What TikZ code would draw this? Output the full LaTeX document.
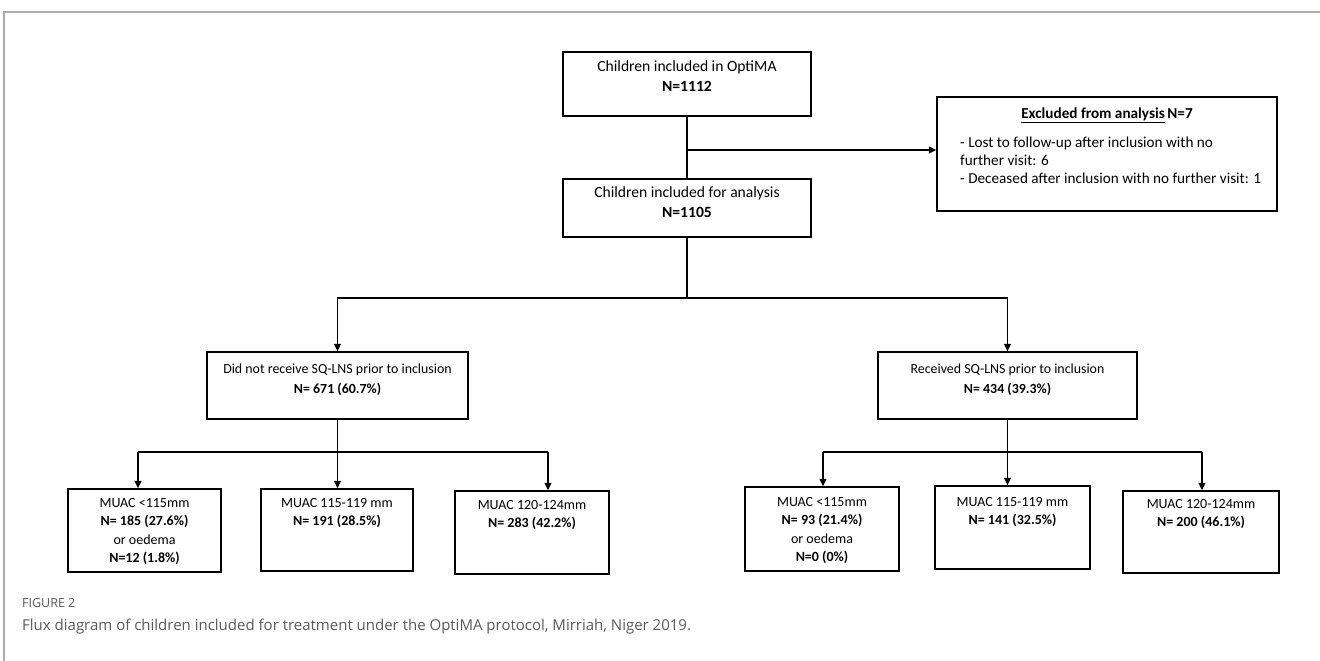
\documentclass[tikz,border=0pt]{standalone}
\usepackage{fontspec}
\setmainfont{Carlito}
\newfontfamily\capfont{Open Sans}
\usetikzlibrary{arrows.meta}
\begin{document}
\begin{tikzpicture}[x=1pt,y=-1pt,
  box/.style={draw=black, line width=1.5pt, inner sep=0pt, rectangle},
  conn/.style={draw=black, line width=1.3pt},
  arr/.style={conn, -{Triangle[length=7.5pt,width=7pt]}},
  txt/.style={inner sep=0pt, align=center, text=black},
  big/.style={font=\fontsize{15.6}{20}\selectfont},
  mid/.style={font=\fontsize{13.9}{20}\selectfont},
  small/.style={font=\fontsize{14}{18.5}\selectfont},
  exfont/.style={font=\fontsize{15.2}{18}\selectfont},
  frame/.style={draw=black!32, line width=1.5pt}
]
\useasboundingbox (0,0) rectangle (1320,661);
% figure frame
\coordinate (fTL) at (4,12);
\coordinate (fTR) at (1320,12);
\coordinate (fBL) at (4,661);
\draw[frame] (fTR) -- (fTL) -- (fBL);

% boxes
\node[box, minimum width=248, minimum height=64] (top) at (687,84) {};
\node[box, minimum width=248, minimum height=58] (incl) at (687,208) {};
\node[box, minimum width=340, minimum height=114] (excl) at (1107,154) {};
\node[box, minimum width=261, minimum height=67] (L) at (337.5,385.5) {};
\node[box, minimum width=259, minimum height=67] (R) at (1007.5,385.5) {};
\node[box, minimum width=153, minimum height=83] (B1) at (144.5,530.5) {};
\node[box, minimum width=152, minimum height=82] (B2) at (337,530) {};
\node[box, minimum width=154, minimum height=83] (B3) at (532,532.5) {};
\node[box, minimum width=154, minimum height=84] (B4) at (822,529) {};
\node[box, minimum width=155, minimum height=83] (B5) at (1012.5,527.5) {};
\node[box, minimum width=156, minimum height=82] (B6) at (1201,532) {};

% texts
\node[txt, big, anchor=north] (topT) at (687,60) {Children included in OptiMA\\\textbf{N=1112}};
\node[txt, big, anchor=north] (inclT) at (687,186) {Children included for analysis\\\textbf{N=1105}};
\node[txt, exfont, anchor=base] (exT) at (1107,118) {\textbf{\underline{Excluded from analysis}\,N=7}};
\node[txt, exfont, anchor=north west, align=left] (exB) at (960,136.5) {- Lost to follow-up after inclusion with no\\further visit: 6\\- Deceased after inclusion with no further visit: 1};
\node[txt, mid, anchor=north] (LT) at (337.5,364) {Did not receive SQ-LNS prior to inclusion\\\textbf{N= 671 (60.7\%)}};
\node[txt, mid, anchor=north] (RT) at (1007.5,364) {Received SQ-LNS prior to inclusion\\\textbf{N= 434 (39.3\%)}};
\node[txt, small, anchor=north] (B1T) at (144.5,498) {MUAC <115mm\\\textbf{N= 185 (27.6\%)}\\or oedema\\\textbf{N=12 (1.8\%)}};
\node[txt, small, anchor=north] (B2T) at (337,498) {MUAC 115-119 mm\\\textbf{N= 191 (28.5\%)}};
\node[txt, small, anchor=north] (B3T) at (532,500) {MUAC 120-124mm\\\textbf{N= 283 (42.2\%)}};
\node[txt, small, anchor=north] (B4T) at (822,497) {MUAC <115mm\\\textbf{N= 93 (21.4\%)}\\or oedema\\\textbf{N=0 (0\%)}};
\node[txt, small, anchor=north] (B5T) at (1012.5,497) {MUAC 115-119 mm\\\textbf{N= 141 (32.5\%)}};
\node[txt, small, anchor=north] (B6T) at (1201,499) {MUAC 120-124mm\\\textbf{N= 200 (46.1\%)}};

% connectors
\coordinate (j1) at (687,150);
\draw[conn] (top.south) -- (incl.north);
\draw[arr] (j1) -- (j1 -| excl.west);
\coordinate (j2) at (687,298);
\draw[conn] (incl.south) -- (j2);
\draw[arr] (j2) -| (L.north);
\draw[arr] (j2) -| (R.north);

\coordinate (a1) at (138,452);
\coordinate (a3) at (548,452);
\draw[conn] (a1) -- (a3);
\draw[arr] (a1) -- (a1 |- B1.north);
\draw[arr] (L.south) -- (L.south |- B2.north);
\draw[arr] (a3) -- (a3 |- B3.north);

\coordinate (b1) at (823,452);
\coordinate (b3) at (1202,452);
\draw[conn] (b1) -- (b3);
\draw[arr] (b1) -- (b1 |- B4.north);
\draw[arr] (R.south) -- (R.south |- B5.north);
\draw[arr] (b3) -- (b3 |- B6.north);

% caption
\node[inner sep=0pt, anchor=west, text=black!65, font=\capfont\fontsize{12.5}{14}\selectfont] (figlab) at (22,603) {FIGURE 2};
\node[inner sep=0pt, anchor=west, text=black!65, font=\capfont\fontsize{15}{17}\selectfont] (cap) at (22,627) {Flux diagram of children included for treatment under the OptiMA protocol, Mirriah, Niger 2019.};
\end{tikzpicture}
\end{document}
